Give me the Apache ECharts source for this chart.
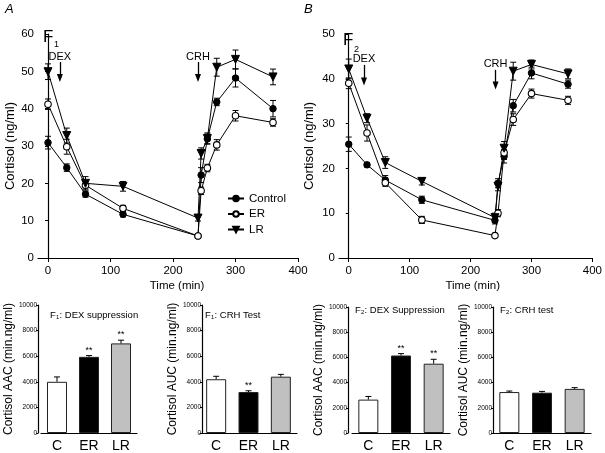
<!DOCTYPE html>
<html>
<head>
<meta charset="utf-8">
<script src="https://cdn.jsdelivr.net/npm/echarts@6/dist/echarts.min.js"></script>
<style>
  html, body { margin: 0; padding: 0; background: #fff; }
  #chart { width: 605px; height: 453px; }
</style>
</head>
<body>
<div id="chart"></div>
<script>
// ============ data ============
const times = [0, 30, 60, 120, 240, 245, 255, 270, 300, 360]
const groups = ['Control', 'ER', 'LR']

// F1 cortisol (ng/ml)
const f1Control = [30.9, 24.2, 17.1, 11.7, 5.9, 22.2, 31.9, 41.8, 48.2, 40.0]
const f1ER = [41.2, 29.8, 19.5, 13.3, 5.9, 18.0, 24.1, 30.3, 38.1, 36.3]
const f1LR = [49.9, 32.8, 20.0, 19.2, 10.7, 28.0, 32.0, 51.1, 53.2, 48.5]
const f1ControlErr = [1.7, 1.0, 0.8, 0.7, 0.6, 2.0, 1.3, 1.0, 2.4, 2.2]
const f1ERErr = [1.4, 2.0, 1.0, 0.8, 0.6, 1.0, 1.0, 1.4, 1.4, 1.0]
const f1LRErr = [2.1, 2.0, 1.8, 1.3, 0.8, 1.5, 1.5, 2.4, 2.5, 2.1]

// F2 cortisol (ng/ml)
const f2Control = [25.4, 20.8, 17.4, 13.0, 8.4, 16.7, 22.7, 34.0, 41.3, 38.8]
const f2ER = [39.0, 27.9, 16.8, 8.5, 5.0, 10.0, 23.5, 30.9, 36.7, 35.2]
const f2LR = [42.2, 31.2, 21.3, 17.1, 9.0, 16.0, 24.5, 41.7, 43.2, 41.1]
const f2ControlErr = [1.6, 0.5, 1.0, 0.8, 0.8, 1.0, 1.5, 1.4, 1.3, 0.9]
const f2ERErr = [1.2, 1.8, 0.8, 0.8, 0.3, 0.8, 1.5, 1.3, 1.0, 0.9]
const f2LRErr = [2.2, 1.0, 1.3, 0.8, 1.0, 1.0, 1.5, 2.0, 1.0, 1.1]

const timeTicks = [0, 100, 200, 300, 400]

// arrows: [label, time, top, tip]
const f1Arrows = [['DEX', 19, 52.5, 48.2], ['CRH', 240, 52.5, 48.2]]
const f2Arrows = [['DEX', 25, 43.1, 39.4], ['CRH', 241, 42.0, 38.5]]

// bar panels
const barCats = ['C', 'ER', 'LR']
const f1DexAAC = [4000, 5950, 7000]
const f1DexErr = [380, 100, 250]
const f1DexSig = ['', '**', '**']
const f1CrhAUC = [4200, 3200, 4400]
const f1CrhErr = [230, 100, 180]
const f1CrhSig = ['', '**', '']
const f2DexAAC = [2650, 6150, 5500]
const f2DexErr = [250, 150, 350]
const f2DexSig = ['', '**', '**']
const f2CrhAUC = [3250, 3200, 3500]
const f2CrhErr = [80, 100, 100]
const f2CrhSig = ['', '', '']
const barColors = ['#ffffff', '#000000', '#c0c0c0']

// ============ helpers ============
const FONT = '"Liberation Sans", Arial, sans-serif'
const font = (size) => size + 'px ' + FONT

const markerStyle = {
  Control: { symbol: 'circle', symbolSize: 6.5, symbolRotate: 0, itemStyle: { color: '#000', borderColor: '#000', borderWidth: 1 } },
  ER: { symbol: 'circle', symbolSize: 6.5, symbolRotate: 0, itemStyle: { color: '#fff', borderColor: '#000', borderWidth: 1.1 } },
  LR: { symbol: 'triangle', symbolSize: 8, symbolRotate: 180, itemStyle: { color: '#000', borderColor: '#000', borderWidth: 1 } }
}

const errRender = (params, api) => {
  const x = api.value(0)
  const y = api.value(1)
  const e = api.value(2)
  const top = api.coord([x, y + e])
  const bot = api.coord([x, y - e])
  const w = 3
  const style = { stroke: '#000', lineWidth: 1 }
  return {
    type: 'group',
    children: [
      { type: 'line', shape: { x1: top[0], y1: top[1], x2: bot[0], y2: bot[1] }, style },
      { type: 'line', shape: { x1: top[0] - w, y1: top[1], x2: top[0] + w, y2: top[1] }, style },
      { type: 'line', shape: { x1: bot[0] - w, y1: bot[1], x2: bot[0] + w, y2: bot[1] }, style }
    ]
  }
}

const barErrRender = (sig) => (params, api) => {
  const i = api.value(0)
  const v = api.value(1)
  const e = api.value(2)
  const base = api.coord([i, v])
  const top = api.coord([i, v + e])
  const style = { stroke: '#000', lineWidth: 1 }
  const children = [
    { type: 'line', shape: { x1: base[0], y1: base[1], x2: top[0], y2: top[1] }, style },
    { type: 'line', shape: { x1: top[0] - 3, y1: top[1], x2: top[0] + 3, y2: top[1] }, style }
  ]
  if (sig[params.dataIndex]) {
    children.push({
      type: 'text',
      style: {
        text: sig[params.dataIndex], x: top[0], y: top[1] - 1,
        align: 'center', verticalAlign: 'bottom',
        font: font(9), fill: '#000'
      }
    })
  }
  return { type: 'group', children }
}

const lineXAxis = (gridIndex, pad) => ({
  gridIndex,
  type: 'value',
  min: -16,
  max: 400,
  name: 'Time (min)',
  nameLocation: 'middle',
  nameGap: 22,
  nameTextStyle: { fontFamily: FONT, fontSize: 11.5, color: '#000', padding: [0, 0, 0, pad] },
  axisLine: { show: true, onZero: false, lineStyle: { color: '#000', width: 1.2 } },
  axisTick: { show: true, length: 4, customValues: timeTicks, lineStyle: { color: '#000' } },
  axisLabel: { customValues: timeTicks, margin: 7, fontFamily: FONT, fontSize: 11.5, color: '#000' },
  splitLine: { show: false }
})

const lineYAxis = (gridIndex, max, gap) => ({
  gridIndex,
  type: 'value',
  min: 0,
  max,
  interval: 10,
  name: 'Cortisol (ng/ml)',
  nameLocation: 'middle',
  nameGap: gap,
  nameTextStyle: { fontFamily: FONT, fontSize: 13, color: '#000' },
  axisLine: { show: true, lineStyle: { color: '#000', width: 1.2 } },
  axisTick: { show: true, length: 3, lineStyle: { color: '#000' } },
  axisLabel: { margin: 4, fontFamily: FONT, fontSize: 11.5, color: '#000' },
  splitLine: { show: false }
})

const barXAxis = (gridIndex) => ({
  gridIndex,
  type: 'category',
  data: barCats,
  axisLine: { show: true, lineStyle: { color: '#000', width: 1.2 } },
  axisTick: { show: false },
  axisLabel: { margin: 6, fontFamily: FONT, fontSize: 14, color: '#000' },
  splitLine: { show: false }
})

const barYAxis = (gridIndex, name, gap, offset) => ({
  gridIndex,
  type: 'value',
  min: 0,
  max: 10000,
  interval: 2000,
  offset,
  name,
  nameLocation: 'middle',
  nameGap: gap,
  nameTextStyle: { fontFamily: FONT, fontSize: 12, color: '#000' },
  axisLine: { show: true, lineStyle: { color: '#000', width: 1.2 } },
  axisTick: { show: true, length: 2, lineStyle: { color: '#000' } },
  axisLabel: { margin: 1, fontFamily: FONT, fontSize: 6.5, color: '#000', formatter: (v) => String(v) },
  splitLine: { show: false }
})

const lineSeries = (axisIndex, name, vals, errs, arrows) => {
  const s = {
    type: 'line',
    name,
    xAxisIndex: axisIndex,
    yAxisIndex: axisIndex,
    data: times.map((t, i) => [t, vals[i]]),
    lineStyle: { color: '#000', width: 1 },
    ...markerStyle[name],
    z: 3,
    animation: false
  }
  if (arrows) {
    s.markLine = {
      silent: true,
      symbol: ['none', 'triangle'],
      symbolSize: [6, 8],
      lineStyle: { color: '#000', width: 1.3, type: 'solid' },
      label: { show: true, position: 'start', distance: 0, formatter: '{b}', fontFamily: FONT, fontSize: 11, color: '#000' },
      data: arrows.map((a) => [{ name: a[0], coord: [a[1], a[2]] }, { coord: [a[1], a[3]] }]),
      animation: false
    }
  }
  return [s, {
    type: 'custom',
    xAxisIndex: axisIndex,
    yAxisIndex: axisIndex,
    data: times.map((t, i) => [t, vals[i], errs[i]]),
    encode: { x: 0, y: 1 },
    renderItem: errRender,
    z: 2,
    silent: true,
    animation: false
  }]
}

const barSeries = (axisIndex, vals, errs, sig) => [
  {
    type: 'bar',
    xAxisIndex: axisIndex,
    yAxisIndex: axisIndex,
    barWidth: 20,
    data: vals.map((v, i) => ({ value: v, itemStyle: { color: barColors[i] } })),
    itemStyle: { borderColor: '#222', borderWidth: 1 },
    animation: false
  },
  {
    type: 'custom',
    xAxisIndex: axisIndex,
    yAxisIndex: axisIndex,
    data: vals.map((v, i) => [i, v, errs[i]]),
    encode: { x: 0, y: 1 },
    renderItem: barErrRender(sig),
    z: 3,
    silent: true,
    animation: false
  }
]

const txt = (x, y, text, size, extra) => ({
  type: 'text', x, y, style: { text, font: (extra || '') + font(size), fill: '#000' }
})

// big "F" with subscript digit: [x, y of F box, sub x, sub y]
const bigLabel = (x, y, sx, sy, sub) => [txt(x, y, 'F', 17), txt(sx, sy, sub, 9)]

// small panel title "F<sub>: text"
const smallTitle = (x, y, sub, text) => [
  txt(x, y, 'F', 9.5),
  txt(x + 6, y + 4.5, sub, 6),
  txt(x + 9.5, y, text, 9.5)
]

// ============ chart ============
const chart = echarts.init(document.getElementById('chart'))

chart.setOption({
  backgroundColor: '#fff',
  animation: false,
  grid: [
    { left: 38, top: 34, width: 260, height: 224 },
    { left: 339, top: 34, width: 260, height: 224 },
    { left: 41, top: 305, width: 96, height: 130 },
    { left: 200, top: 305, width: 97, height: 130 },
    { left: 352, top: 307, width: 98, height: 126 },
    { left: 493, top: 307, width: 98, height: 126 }
  ],
  xAxis: [
    lineXAxis(0, 18),
    lineXAxis(1, 14),
    barXAxis(2),
    barXAxis(3),
    barXAxis(4),
    barXAxis(5)
  ],
  yAxis: [
    lineYAxis(0, 60, 19),
    lineYAxis(1, 50, 23),
    barYAxis(2, 'Cortisol AAC (min.ng/ml)', 19, 3),
    barYAxis(3, 'Cortisol AUC (min.ng/ml)', 23, -2),
    barYAxis(4, 'Cortisol AAC (min.ng/ml)', 12, 4),
    barYAxis(5, 'Cortisol AUC (min.ng/ml)', 12, 0)
  ],
  legend: {
    data: groups,
    orient: 'vertical',
    left: 227,
    top: 192,
    padding: 0,
    itemWidth: 16,
    itemHeight: 7,
    itemGap: 2.5,
    selectedMode: false,
    textStyle: { fontFamily: FONT, fontSize: 11.5, color: '#000', lineHeight: 13 }
  },
  graphic: [
    txt(5, 3, 'A', 13, 'italic '),
    txt(304, 3, 'B', 13, 'italic '),
    ...bigLabel(43, 29, 54, 40, '1'),
    ...bigLabel(343, 32, 354, 45, '2'),
    ...smallTitle(50, 310, '1', ': DEX suppression'),
    ...smallTitle(205, 310, '1', ': CRH Test'),
    ...smallTitle(355, 305, '2', ': DEX Suppression'),
    ...smallTitle(500, 305, '2', ': CRH test')
  ],
  series: [
    ...lineSeries(0, 'Control', f1Control, f1ControlErr, f1Arrows),
    ...lineSeries(0, 'ER', f1ER, f1ERErr),
    ...lineSeries(0, 'LR', f1LR, f1LRErr),
    ...lineSeries(1, 'Control', f2Control, f2ControlErr, f2Arrows),
    ...lineSeries(1, 'ER', f2ER, f2ERErr),
    ...lineSeries(1, 'LR', f2LR, f2LRErr),
    ...barSeries(2, f1DexAAC, f1DexErr, f1DexSig),
    ...barSeries(3, f1CrhAUC, f1CrhErr, f1CrhSig),
    ...barSeries(4, f2DexAAC, f2DexErr, f2DexSig),
    ...barSeries(5, f2CrhAUC, f2CrhErr, f2CrhSig)
  ]
})
</script>
</body>
</html>
